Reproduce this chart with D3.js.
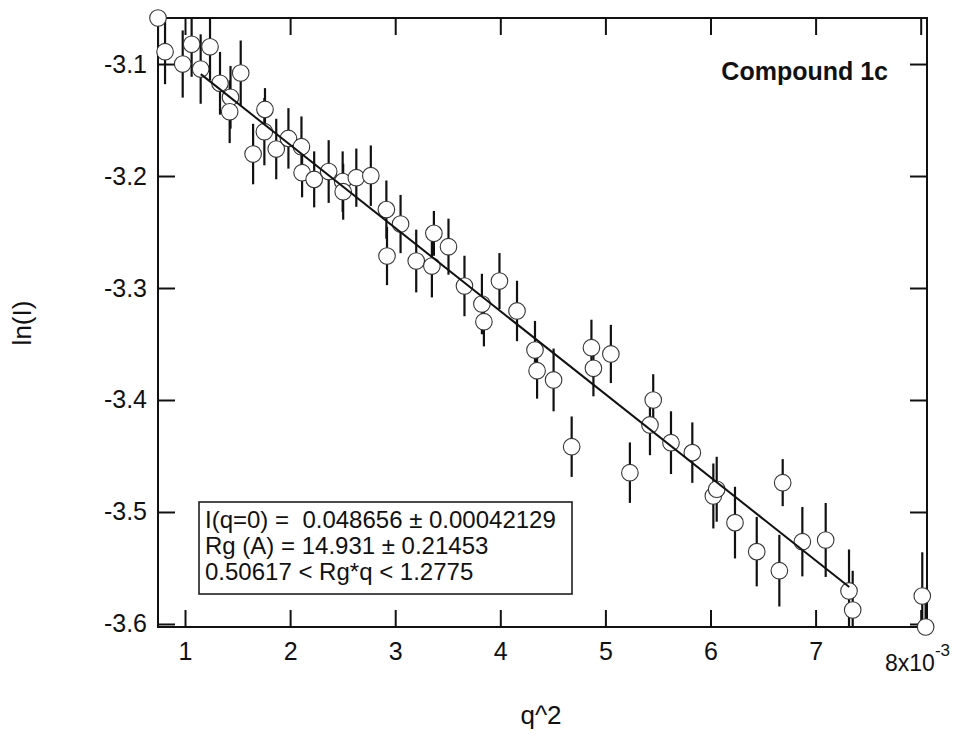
<!DOCTYPE html>
<html>
<head>
<meta charset="utf-8">
<script src="https://cdn.jsdelivr.net/npm/d3@7"></script>
<style>
  body { margin: 0; background: #fff; }
  svg { display: block; font-family: "Liberation Sans", Arial, sans-serif; }
</style>
</head>
<body>
<svg width="956" height="734"></svg>
<script>
// q^2 in units of 1e-3
const q2 = [0.743, 0.810, 0.978, 1.063, 1.149, 1.238, 1.333, 1.433, 1.425, 1.530,
  1.648, 1.755, 1.761, 1.868, 1.984, 2.108, 2.114, 2.229, 2.367, 2.500,
  2.505, 2.630, 2.768, 2.916, 2.922, 3.051, 3.200, 3.349, 3.368, 3.507,
  3.659, 3.825, 3.844, 3.992, 4.159, 4.330, 4.350, 4.507, 4.679, 4.867,
  4.886, 5.052, 5.233, 5.424, 5.455, 5.624, 5.827, 6.027, 6.059, 6.233,
  6.440, 6.655, 6.687, 6.874, 7.096, 7.318, 7.353, 8.015, 8.047];
const lnI = [-3.0589, -3.0890, -3.1000, -3.0824, -3.1045, -3.0846, -3.1172, -3.1297, -3.1426, -3.1080,
  -3.1804, -3.1604, -3.1405, -3.1759, -3.1664, -3.1738, -3.1970, -3.2030, -3.1960, -3.2050,
  -3.2140, -3.2015, -3.1997, -3.2300, -3.2714, -3.2429, -3.2759, -3.2804, -3.2512, -3.2631,
  -3.2982, -3.3143, -3.3301, -3.2938, -3.3205, -3.3554, -3.3738, -3.3821, -3.4417, -3.3533,
  -3.3717, -3.3589, -3.4649, -3.4223, -3.4000, -3.4381, -3.4470, -3.4857, -3.4797, -3.5095,
  -3.5354, -3.5524, -3.4738, -3.5265, -3.5250, -3.5705, -3.5875, -3.5750, -3.6027];
const err = [0.030, 0.029, 0.030, 0.029, 0.031, 0.030, 0.028, 0.028, 0.028, 0.029,
  0.027, 0.030, 0.019, 0.027, 0.027, 0.027, 0.022, 0.025, 0.028, 0.027,
  0.025, 0.026, 0.027, 0.026, 0.026, 0.026, 0.028, 0.028, 0.020, 0.025,
  0.027, 0.027, 0.022, 0.025, 0.027, 0.026, 0.025, 0.028, 0.027, 0.025,
  0.025, 0.026, 0.027, 0.027, 0.023, 0.028, 0.027, 0.029, 0.029, 0.032,
  0.031, 0.032, 0.021, 0.031, 0.033, 0.037, 0.035, 0.039, 0.035];

// Guinier fit line end points
const fitQ2 = [1.15, 7.32];
const fitLnI = [-3.109, -3.567];

const xTicks = [1, 2, 3, 4, 5, 6, 7, 8];
const yTicks = [-3.6, -3.5, -3.4, -3.3, -3.2, -3.1];
const legendLines = [
  "I(q=0) =  0.048656 \u00b1 0.00042129",
  "Rg (A) = 14.931 \u00b1 0.21453",
  "0.50617 < Rg*q < 1.2775"
];

const pLeft = 158, pRight = 927, pTop = 18, pBottom = 627;
const tick = 17;

const svg = d3.select("svg");
const x = d3.scaleLinear().domain([0.743, 8.060]).range([pLeft, pRight]);
const y = d3.scaleLinear().domain([-3.6027, -3.0589]).range([pBottom, pTop]);

const data = q2.map((d, i) => ({ x: d, y: lnI[i], e: err[i] }));

svg.append("clipPath").attr("id", "plot")
  .append("rect").attr("x", pLeft).attr("y", pTop)
  .attr("width", pRight - pLeft).attr("height", pBottom - pTop);

// axes (ticks pointing inward on all four sides)
const styleAxis = g => {
  g.select(".domain").remove();
  g.selectAll(".tick line").attr("stroke", "#111").attr("stroke-width", 2);
  g.selectAll(".tick text").attr("fill", "#111").attr("font-size", 25);
};

svg.append("g").attr("transform", `translate(0,${pBottom})`)
  .call(d3.axisBottom(x).tickValues(xTicks).tickSizeInner(-tick).tickSizeOuter(0)
    .tickPadding(15).tickFormat(d => d === 8 ? "" : d))
  .call(styleAxis);
svg.append("g").attr("transform", `translate(0,${pTop})`)
  .call(d3.axisTop(x).tickValues(xTicks).tickSizeInner(-tick).tickSizeOuter(0).tickFormat(""))
  .call(styleAxis);
svg.append("g").attr("transform", `translate(${pLeft},0)`)
  .call(d3.axisLeft(y).tickValues(yTicks).tickSizeInner(-tick).tickSizeOuter(0)
    .tickPadding(11).tickFormat(d => d.toFixed(1)))
  .call(styleAxis);
svg.append("g").attr("transform", `translate(${pRight},0)`)
  .call(d3.axisRight(y).tickValues(yTicks).tickSizeInner(-tick).tickSizeOuter(0).tickFormat(""))
  .call(styleAxis);
svg.append("rect").attr("x", pLeft).attr("y", pTop)
  .attr("width", pRight - pLeft).attr("height", pBottom - pTop)
  .attr("fill", "none").attr("stroke", "#111").attr("stroke-width", 2);

// exponent label at 8
const exp = svg.append("text").attr("x", 885).attr("y", 671)
  .attr("font-size", 23).attr("fill", "#111");
exp.append("tspan").text("8x10");
exp.append("tspan").attr("font-size", 17).attr("dy", -15).text("-3");

// error bars
svg.append("g").attr("clip-path", "url(#plot)")
  .selectAll("line").data(data).join("line")
  .attr("x1", d => x(d.x)).attr("x2", d => x(d.x))
  .attr("y1", d => y(d.y - d.e)).attr("y2", d => y(d.y + d.e))
  .attr("stroke", "#111").attr("stroke-width", 2.2);

// markers
svg.append("g").selectAll("circle").data(data).join("circle")
  .attr("cx", d => x(d.x)).attr("cy", d => y(d.y)).attr("r", 8.3)
  .attr("fill", "#fff").attr("stroke", "#333").attr("stroke-width", 1.1);

// fit line
svg.append("line")
  .attr("x1", x(fitQ2[0])).attr("y1", y(fitLnI[0]))
  .attr("x2", x(fitQ2[1])).attr("y2", y(fitLnI[1]))
  .attr("stroke", "#111").attr("stroke-width", 2);

// fit results box
svg.append("rect").attr("x", 199).attr("y", 502).attr("width", 373).attr("height", 92)
  .attr("fill", "#fff").attr("stroke", "#111").attr("stroke-width", 1.5);
svg.append("g").selectAll("text").data(legendLines).join("text")
  .attr("x", 205).attr("y", (d, i) => 528 + i * 26)
  .attr("font-size", 24).attr("fill", "#111")
  .attr("xml:space", "preserve").style("white-space", "pre")
  .text(d => d);

svg.append("text").attr("x", 888).attr("y", 80).attr("text-anchor", "end")
  .attr("font-size", 25).attr("font-weight", "bold").attr("fill", "#111")
  .text("Compound 1c");

// axis titles
svg.append("text").attr("transform", "translate(31,323) rotate(-90)")
  .attr("text-anchor", "middle").attr("font-size", 26).attr("fill", "#111")
  .text("ln(I)");
svg.append("text").attr("x", 541).attr("y", 724).attr("text-anchor", "middle")
  .attr("font-size", 26).attr("fill", "#111")
  .text("q^2");
</script>
</body>
</html>
